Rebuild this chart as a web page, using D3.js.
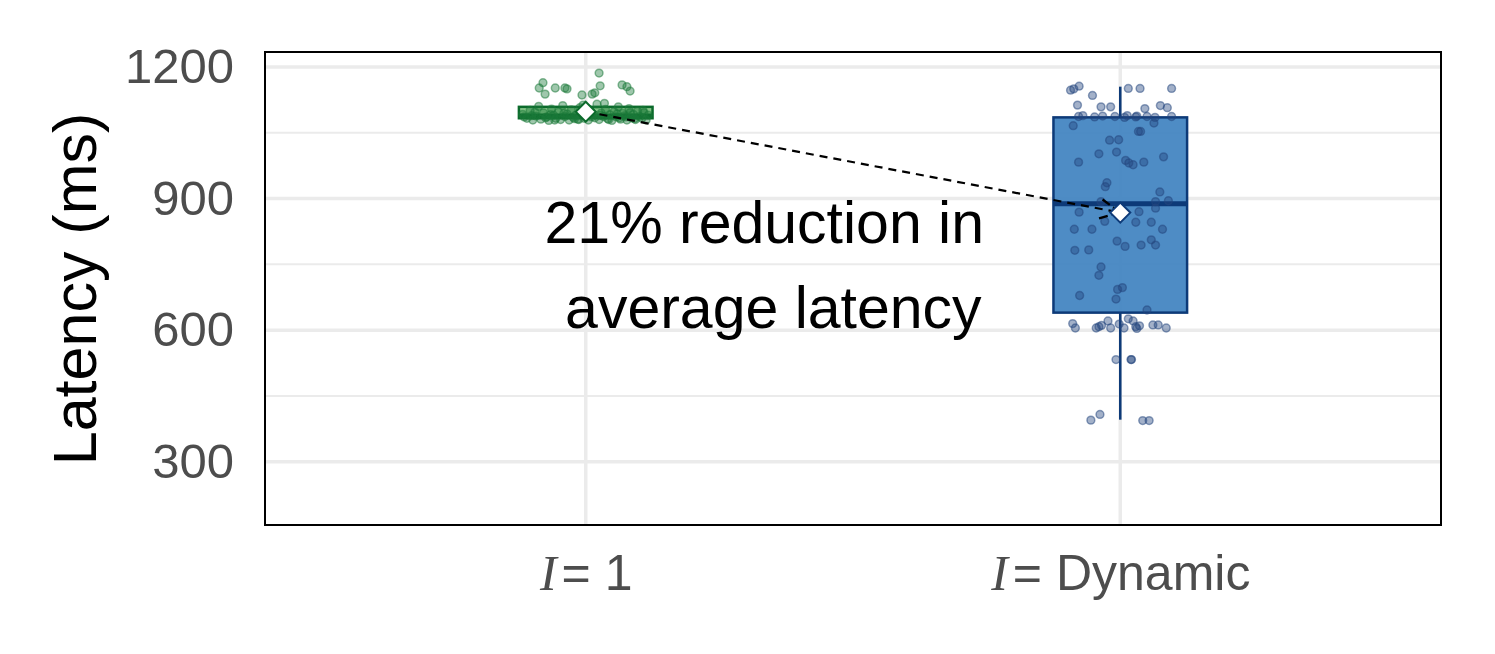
<!doctype html>
<html>
<head>
<meta charset="utf-8">
<title>Latency boxplot</title>
<style>
  body { margin: 0; background: #fff; }
  svg { font-family: "Liberation Sans", Arial, sans-serif; }
</style>
<script src="https://d3js.org/d3.v7.min.js"></script>
</head>
<body>
<svg width="1495" height="654"></svg>
<script>
// ---- data ----
var categories = ["1", "Dynamic"];
var yTicks = [300, 600, 900, 1200];
var yMinor = [450, 750, 1050];

// box stats: [whiskerLow, q1, median, q3, whiskerHigh]
var boxStats = [
  [1079, 1083, 1088, 1109, 1110],
  [396, 640, 888, 1085, 1155]
];
var means = [1098, 868];

// jittered points: [offset in category units, latency ms]
var pointsFixed = [
  [0.025,1186],[-0.080,1164],[-0.087,1152],[-0.057,1152],[-0.039,1152],[-0.035,1150],
  [-0.076,1138],[0.027,1157],[0.068,1159],[0.077,1155],[0.083,1145],[-0.007,1136],
  [0.012,1138],[0.017,1141],
  [-0.118,1092],[-0.110,1083],[-0.104,1101],[-0.099,1079],[-0.093,1088],[-0.088,1110],
  [-0.084,1081],[-0.079,1095],[-0.073,1086],[-0.069,1078],[-0.064,1104],[-0.060,1090],
  [-0.056,1083],[-0.051,1097],[-0.047,1080],[-0.043,1112],[-0.039,1087],[-0.035,1093],
  [-0.031,1079],[-0.027,1102],[-0.023,1085],[-0.019,1090],[-0.015,1081],[-0.011,1107],
  [-0.007,1096],[-0.003,1083],[0.001,1088],[0.005,1079],[0.009,1100],[0.013,1092],
  [0.017,1084],[0.021,1115],[0.025,1080],[0.029,1095],[0.033,1087],[0.037,1103],
  [0.041,1082],[0.045,1091],[0.049,1078],[0.053,1098],[0.057,1086],[0.061,1109],
  [0.065,1081],[0.069,1094],[0.073,1089],[0.077,1079],[0.081,1105],[0.085,1084],
  [0.089,1092],[0.093,1080],[0.097,1099],[0.101,1087],[0.105,1083],[0.109,1096],
  [0.113,1079],[0.117,1090],[-0.115,1086],[-0.095,1097],[-0.075,1084],[-0.058,1079],
  [-0.041,1094],[-0.021,1082],[-0.005,1113],[0.011,1086],[0.027,1090],[0.043,1080],
  [0.059,1093],[0.075,1086],[0.091,1082],[0.107,1101],[-0.066,1091],[-0.013,1080],
  [0.035,1117],[0.083,1096],[-0.101,1089],[0.063,1084]
];
var pointsDynamic = [
  [-0.093,1147],[-0.087,1150],[-0.077,1156],[-0.052,1135],[0.015,1151],[0.037,1151],
  [0.096,1151],[-0.080,1113],[-0.036,1109],[-0.018,1109],[0.046,1105],[0.075,1112],
  [0.088,1107],[-0.078,1087],[-0.070,1089],[-0.048,1086],[-0.033,1088],[-0.010,1087],
  [0.008,1085],[0.013,1089],[0.029,1086],[0.031,1088],[0.050,1087],[0.065,1085],
  [0.096,1087],[0.063,1072],[-0.088,1066],[0.034,1053],[0.038,1053],[-0.020,1033],
  [-0.003,1034],[-0.040,1002],[-0.007,1006],[0.081,995],[-0.078,983],[0.010,987],
  [0.016,981],[0.024,977],[0.044,983],[-0.025,936],[-0.028,927],[0.074,915],
  [-0.036,893],[0.066,893],[0.090,895],[0.066,878],[-0.077,869],[0.035,870],
  [-0.029,848],[0.029,846],[0.058,846],[-0.086,830],[-0.053,830],[0.079,830],
  [-0.006,803],[0.009,791],[0.039,794],[0.058,806],[0.066,794],[-0.085,782],
  [-0.059,783],[-0.036,744],[-0.040,725],[-0.076,679],[-0.005,693],[0.004,697],
  [-0.008,671],[0.050,646],[-0.089,615],[-0.084,605],[-0.045,605],[-0.040,608],
  [-0.035,611],[-0.023,621],[-0.018,605],[-0.002,614],[0.007,605],[0.015,626],
  [0.024,621],[0.029,608],[0.031,604],[0.036,610],[0.061,612],[0.071,612],
  [0.086,605],[-0.008,533],[0.020,533],[0.021,533],[-0.055,395],[-0.038,408],
  [0.042,394],[0.054,394]
];
var groupPoints = [pointsFixed, pointsDynamic];

var lineColor = ["#0b6a2b", "#0d3a78"];
var boxFill = ["#7dc07f", "#3f82c0"];
var pointColor = ["#1b7a3a", "#23457e"];

// ---- layout ----
var svg = d3.select("svg"),
    marginLeft = 265, marginTop = 52,
    width = 1176, height = 473;

var g = svg.append("g").attr("transform", "translate(" + marginLeft + "," + marginTop + ")");

var x = d3.scaleLinear().domain([0.4, 2.6]).range([0, width]);
var xCat = d3.scalePoint().domain(categories).range([x(1), x(2)]);
var y = d3.scaleLinear().domain([156, 1234]).range([height, 0]);

// grid
g.selectAll(".minor").data(yMinor).enter().append("line")
  .attr("x1", 0).attr("x2", width)
  .attr("y1", function(d) { return y(d); }).attr("y2", function(d) { return y(d); })
  .attr("stroke", "#ebebeb").attr("stroke-width", 2);
g.selectAll(".major").data(yTicks).enter().append("line")
  .attr("x1", 0).attr("x2", width)
  .attr("y1", function(d) { return y(d); }).attr("y2", function(d) { return y(d); })
  .attr("stroke", "#ebebeb").attr("stroke-width", 3.5);
g.selectAll(".vmajor").data(categories).enter().append("line")
  .attr("x1", function(d) { return xCat(d); }).attr("x2", function(d) { return xCat(d); })
  .attr("y1", 0).attr("y2", height)
  .attr("stroke", "#ebebeb").attr("stroke-width", 3.5);

// boxes
var boxW = x(1.25) - x(1);
categories.forEach(function(c, i) {
  var s = boxStats[i], cx = xCat(c);
  g.append("line").attr("x1", cx).attr("x2", cx)
    .attr("y1", y(s[0])).attr("y2", y(s[1]))
    .attr("stroke", lineColor[i]).attr("stroke-width", 2.5);
  g.append("line").attr("x1", cx).attr("x2", cx)
    .attr("y1", y(s[3])).attr("y2", y(s[4]))
    .attr("stroke", lineColor[i]).attr("stroke-width", 2.5);
  g.append("rect")
    .attr("x", cx - boxW / 2).attr("width", boxW)
    .attr("y", y(s[3])).attr("height", y(s[1]) - y(s[3]))
    .attr("fill", boxFill[i]).attr("fill-opacity", 0.92)
    .attr("stroke", lineColor[i]).attr("stroke-width", 2.5);
  g.append("line")
    .attr("x1", cx - boxW / 2).attr("x2", cx + boxW / 2)
    .attr("y1", y(s[2])).attr("y2", y(s[2]))
    .attr("stroke", lineColor[i]).attr("stroke-width", 5);
});

// jitter points
categories.forEach(function(c, i) {
  g.selectAll(".pt" + i).data(groupPoints[i]).enter().append("circle")
    .attr("cx", function(d) { return x(i + 1 + d[0]); })
    .attr("cy", function(d) { return y(d[1]); })
    .attr("r", 3.9)
    .attr("fill", pointColor[i]).attr("fill-opacity", 0.42)
    .attr("stroke", pointColor[i]).attr("stroke-opacity", 0.5)
    .attr("stroke-width", 1.5);
});

// dashed arrow between means
var x0 = xCat(categories[0]), y0 = y(means[0]),
    x1 = xCat(categories[1]), y1 = y(means[1]);
g.append("line").attr("x1", x0).attr("y1", y0).attr("x2", x1).attr("y2", y1)
  .attr("stroke", "#000").attr("stroke-width", 2.2).attr("stroke-dasharray", "8,6");
var ang = Math.atan2(y1 - y0, x1 - x0), head = 22, spread = Math.PI / 7;
[-1, 1].forEach(function(sgn) {
  g.append("line").attr("x1", x1).attr("y1", y1)
    .attr("x2", x1 - head * Math.cos(ang + sgn * spread))
    .attr("y2", y1 - head * Math.sin(ang + sgn * spread))
    .attr("stroke", "#000").attr("stroke-width", 2.4).attr("stroke-dasharray", "9,4");
});

// mean diamonds
categories.forEach(function(c, i) {
  var cx = xCat(c), cy = y(means[i]), r = 10;
  g.append("path")
    .attr("d", "M" + cx + "," + (cy - r) + "L" + (cx + r) + "," + cy +
               "L" + cx + "," + (cy + r) + "L" + (cx - r) + "," + cy + "Z")
    .attr("fill", "#fff").attr("stroke", lineColor[i]).attr("stroke-width", 2);
});

// annotation
var note = g.append("text").attr("font-size", 59).attr("fill", "#000").attr("text-anchor", "middle");
note.append("tspan").attr("x", x(1.334)).attr("y", y(799)).text("21% reduction in");
note.append("tspan").attr("x", x(1.351)).attr("y", y(605)).text("average latency");

// panel border
g.append("rect").attr("width", width).attr("height", height)
  .attr("fill", "none").attr("stroke", "#000").attr("stroke-width", 2);

// y axis
var yAxis = g.append("g")
  .call(d3.axisLeft(y).tickValues(yTicks).tickFormat(d3.format("d")).tickSize(0).tickPadding(31));
yAxis.select(".domain").remove();
yAxis.selectAll("text").attr("font-size", 49).attr("fill", "#4d4d4d")
  .attr("font-family", "Liberation Sans, Arial, sans-serif");

// x axis labels
var xAxis = g.append("g").attr("transform", "translate(0," + height + ")")
  .call(d3.axisBottom(xCat).tickSize(0).tickPadding(0));
xAxis.select(".domain").remove();
xAxis.selectAll("text").each(function(d) {
  var t = d3.select(this).text("")
    .attr("y", 65).attr("dy", 0)
    .attr("font-size", 50).attr("fill", "#4d4d4d")
    .attr("font-family", "Liberation Sans, Arial, sans-serif");
  t.append("tspan").attr("font-family", "Liberation Serif, serif").attr("font-style", "italic").text("I");
  t.append("tspan").attr("dx", 5).text("= " + d);
});

// y title
svg.append("text")
  .attr("transform", "translate(96,289) rotate(-90)")
  .attr("text-anchor", "middle").attr("font-size", 61).attr("fill", "#000")
  .text("Latency (ms)");
</script>
</body>
</html>
